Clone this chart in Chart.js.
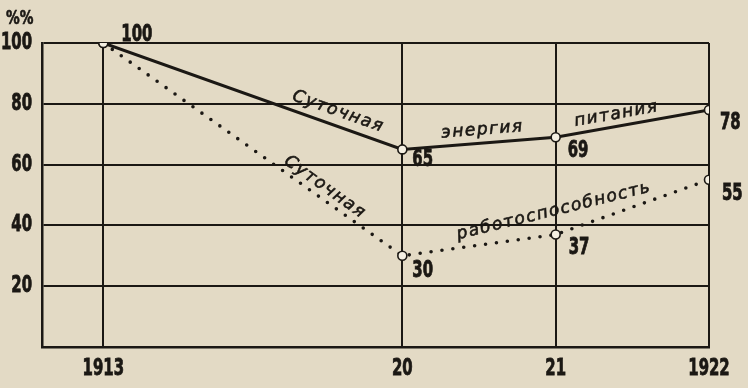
<!DOCTYPE html>
<html>
<head>
<meta charset="utf-8">
<script src="https://cdn.jsdelivr.net/npm/chart.js@4.4.1/dist/chart.umd.min.js"></script>
<style>
    html, body { margin: 0; padding: 0; background: #e3dac5; }
    #wrap { width: 748px; height: 388px; }
</style>
</head>
<body>
<div id="wrap"><canvas id="chart" width="748" height="388"></canvas></div>
<script>
// data
const years = ['1913', '20', '21', '1922'];
const yearSlots = [0, 1.95, 2.95, 3.95]; // uneven spacing of the original axis
const energy = [100, 65, 69, 78];        // Суточная энергия питания
const workCapacity = [100, 30, 37, 55];  // Суточная работоспособность
const yTicks = [0, 20, 40, 60, 80, 100];

const INK = '#1b1814';
const NUM_FONT = 'bold 23px "DejaVu Sans Condensed", "DejaVu Sans", sans-serif';
const TXT_FONT = 'italic 17px "DejaVu Sans", sans-serif';
const SQUEEZE = 0.72; // old print digits are tall and narrow

// offsets of the value labels from their points
const energyLabelOffsets = [[18, -8], [10, 11], [12, 14], [11, 13]];
const workLabelOffsets = [null, [10, 15], [13, 14], [13, 14]];

// words written along the lines: dataset, from point, to point, fraction, offset
const lineWords = [
    { ds: 0, a: 0, b: 1, t: 0.77, off: 14, text: 'Суточная' },
    { ds: 0, a: 1, b: 2, t: 0.53, off: 13, text: 'энергия' },
    { ds: 0, a: 2, b: 3, t: 0.41, off: 12, text: 'питания' },
    { ds: 1, a: 0, b: 1, t: 0.72, off: 11, text: 'Суточная' },
    { ds: 1, a: 1, b: 3, t: 0.50, off: 7, text: 'работоспособность' }
];

const toPoints = arr => arr.map((v, i) => ({ x: yearSlots[i], y: v }));

// narrow bold numbers, like the original typeface
function drawNumber(ctx, text, x, y, align) {
    ctx.save();
    ctx.font = NUM_FONT;
    ctx.textBaseline = 'middle';
    ctx.textAlign = align;
    ctx.lineWidth = 0.8;
    ctx.translate(x, y);
    ctx.scale(SQUEEZE, 1);
    ctx.fillText(text, 0, 0);
    ctx.strokeText(text, 0, 0);
    ctx.restore();
}

const labelsPlugin = {
    id: 'labels',
    afterDraw(chart) {
        const ctx = chart.ctx;
        const { x: xScale, y: yScale } = chart.scales;
        ctx.save();
        ctx.fillStyle = INK;
        ctx.strokeStyle = INK;

        // axis labels, placed by the scales
        yScale.ticks.forEach(t => {
            if (t.value === 0) return;
            drawNumber(ctx, String(t.value), xScale.left - 10, yScale.getPixelForValue(t.value), 'right');
        });
        xScale.ticks.forEach(t => {
            const label = years[yearSlots.indexOf(t.value)];
            drawNumber(ctx, label, xScale.getPixelForValue(t.value), yScale.bottom + 22, 'center');
        });

        // %% above the y axis
        ctx.save();
        ctx.font = 'bold 19px "DejaVu Sans Condensed", sans-serif';
        ctx.textBaseline = 'middle';
        ctx.lineWidth = 0.6;
        ctx.translate(6, 19);
        ctx.scale(0.8, 1);
        ctx.fillText('%%', 0, 0);
        ctx.strokeText('%%', 0, 0);
        ctx.restore();

        // value labels
        const drawValues = (dsIndex, values, offsets) => {
            const pts = chart.getDatasetMeta(dsIndex).data;
            values.forEach((v, i) => {
                if (!offsets[i]) return;
                drawNumber(ctx, String(v), pts[i].x + offsets[i][0], pts[i].y + offsets[i][1], 'left');
            });
        };
        drawValues(0, energy, energyLabelOffsets);
        drawValues(1, workCapacity, workLabelOffsets);

        // slanted words along the lines
        ctx.font = TXT_FONT;
        ctx.textAlign = 'center';
        ctx.textBaseline = 'middle';
        ctx.letterSpacing = '1.5px';
        ctx.lineWidth = 0.6;
        lineWords.forEach(w => {
            const pts = chart.getDatasetMeta(w.ds).data;
            const p1 = pts[w.a], p2 = pts[w.b];
            const ang = Math.atan2(p2.y - p1.y, p2.x - p1.x);
            const cx = p1.x + (p2.x - p1.x) * w.t + Math.sin(ang) * w.off;
            const cy = p1.y + (p2.y - p1.y) * w.t - Math.cos(ang) * w.off;
            ctx.save();
            ctx.translate(cx, cy);
            ctx.rotate(ang);
            ctx.fillText(w.text, 0, 0);
            ctx.strokeText(w.text, 0, 0);
            ctx.restore();
        });
        ctx.restore();
    }
};

const seriesStyle = {
    borderColor: INK,
    pointRadius: 4.5,
    pointBackgroundColor: '#f4efe2',
    pointBorderColor: INK,
    pointBorderWidth: 1.6,
    tension: 0
};

new Chart(document.getElementById('chart'), {
    type: 'line',
    data: {
        datasets: [
            Object.assign({
                label: 'Суточная энергия питания',
                data: toPoints(energy),
                borderWidth: 3
            }, seriesStyle),
            Object.assign({
                label: 'Суточная работоспособность',
                data: toPoints(workCapacity),
                borderWidth: 3.6,
                borderDash: [0, 11],
                borderCapStyle: 'round'
            }, seriesStyle)
        ]
    },
    options: {
        responsive: false,
        animation: false,
        layout: { padding: { top: 43, right: 39, left: 0, bottom: 0 } },
        plugins: {
            legend: { display: false },
            tooltip: { enabled: false }
        },
        scales: {
            x: {
                type: 'linear',
                min: -0.4,
                max: 3.95,
                afterBuildTicks: scale => { scale.ticks = yearSlots.map(v => ({ value: v })); },
                afterFit: scale => { scale.height = 41; },
                ticks: { display: false },
                grid: { color: INK, lineWidth: 2, drawTicks: false },
                border: { color: INK, width: 2.5 }
            },
            y: {
                min: 0,
                max: 100,
                afterBuildTicks: scale => { scale.ticks = yTicks.map(v => ({ value: v })); },
                afterFit: scale => { scale.width = 42; },
                ticks: { display: false },
                grid: { color: INK, lineWidth: 2, drawTicks: false },
                border: { color: INK, width: 2.5 }
            }
        }
    },
    plugins: [labelsPlugin]
});
</script>
</body>
</html>
